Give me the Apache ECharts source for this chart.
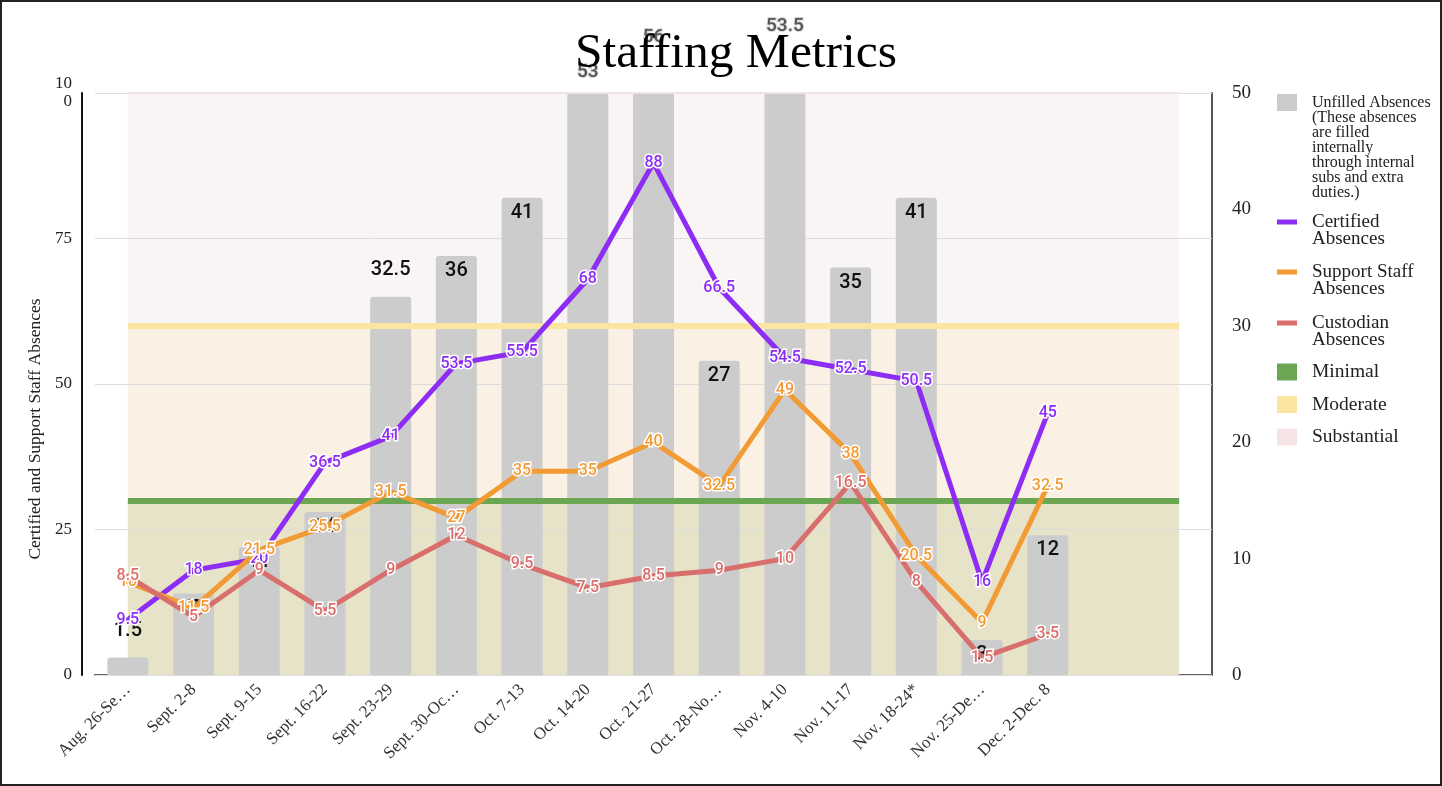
<!DOCTYPE html>
<html>
<head>
<meta charset="utf-8">
<title>Staffing Metrics</title>
<script src="https://cdn.jsdelivr.net/npm/echarts@6/dist/echarts.min.js"></script>
<style>
  html, body { margin: 0; padding: 0; background: #fff; }
  #chart { width: 1442px; height: 786px; }
  #frame { position: absolute; left: 0; top: 0; width: 1442px; height: 786px;
           box-sizing: border-box; border: 2px solid #222; pointer-events: none; }
</style>
</head>
<body>
<div id="chart"></div>
<div id="frame"></div>
<script>
// week labels as shown on the axis (two blank slots at the end)
var weeks = ['Aug. 26-Se…', 'Sept. 2-8', 'Sept. 9-15', 'Sept. 16-22', 'Sept. 23-29',
    'Sept. 30-Oc…', 'Oct. 7-13', 'Oct. 14-20', 'Oct. 21-27', 'Oct. 28-No…',
    'Nov. 4-10', 'Nov. 11-17', 'Nov. 18-24*', 'Nov. 25-De…', 'Dec. 2-Dec. 8', '', ''];

var unfilled  = [1.5, 7, 11, 14, 32.5, 36, 41, 53, 56, 27, 53.5, 35, 41, 3, 12];
var certified = [9.5, 18, 20, 36.5, 41, 53.5, 55.5, 68, 88, 66.5, 54.5, 52.5, 50.5, 16, 45];
var support   = [16, 11.5, 21.5, 25.5, 31.5, 27, 35, 35, 40, 32.5, 49, 38, 20.5, 9, 32.5];
var custodian = [8.5, 5, 9, 5.5, 9, 12, 9.5, 7.5, 8.5, 9, 10, 16.5, 8, 1.5, 3.5];

// band thresholds on the left axis
var bandNames  = ['Minimal', 'Moderate', 'Substantial'];
var bandLevels = [0, 30, 60, 100];

var leftTicks  = [0, 25, 50, 75, 100];
var rightTicks = [0, 10, 20, 30, 40, 50];

var UNFILLED = 'Unfilled Absences (These absences are filled internally through internal subs and extra duties.)';
var serif = '"Liberation Serif", "DejaVu Serif", serif';
var sans = 'Roboto, "Liberation Sans", sans-serif';

var rightMax = rightTicks[rightTicks.length - 1];
var lastIdx = weeks.length - 1;

var bandFill = ['#e6e3c9', '#faf1e4', '#f9f5f4'];
var bandLine = ['#6ba653', '#fbe5a1', '#efe3e3'];
var bandSwatch = ['#6ba653', '#fbe5a1', '#f4e4e6'];

function barLabel(v) {
    var dec = !Number.isInteger(v);
    return {
        show: v <= rightMax,
        position: dec ? 'top' : 'insideTop',
        distance: dec ? 17 : 5
    };
}

var barData = unfilled.map(function (v) {
    return {value: v, label: barLabel(v)};
});
var overflowData = unfilled.map(function (v) {
    if (v <= rightMax) return '-';
    var dec = !Number.isInteger(v);
    return {value: v, label: {position: dec ? 'top' : 'bottom', distance: dec ? 17 : 5}};
});

function lineSeries(name, data, color, axis) {
    return {
        name: name,
        type: 'line',
        yAxisIndex: axis,
        data: data,
        z: 4,
        symbol: 'circle',
        symbolSize: 0,
        showSymbol: true,
        color: color,
        lineStyle: {width: 5, color: color, cap: 'round', join: 'round'},
        label: {
            show: true,
            position: 'inside',
            color: color,
            fontFamily: sans,
            fontSize: 16,
            fontWeight: 500,
            textBorderColor: '#fff',
            textBorderWidth: 3
        }
    };
}

var bandSeries = bandNames.map(function (name, i) {
    return {
        name: name,
        type: 'line',
        yAxisIndex: 0,
        data: [],
        color: bandSwatch[i],
        itemStyle: {color: bandSwatch[i]},
        markArea: {
            silent: true,
            z: 1,
            itemStyle: {color: bandFill[i]},
            data: [[{xAxis: 0, yAxis: bandLevels[i]}, {xAxis: lastIdx, yAxis: bandLevels[i + 1]}]]
        },
        markLine: {
            silent: true,
            z: 3,
            symbol: 'none',
            label: {show: false},
            lineStyle: {color: bandLine[i], width: i < 2 ? 6 : 2, type: 'solid'},
            data: [[{xAxis: 0, yAxis: bandLevels[i + 1]}, {xAxis: lastIdx, yAxis: bandLevels[i + 1]}]]
        }
    };
});

var unfilledLines = ['Unfilled Absences', '(These absences', 'are filled', 'internally',
    'through internal', 'subs and extra', 'duties.)'];

// one legend per entry so each can sit where the reference puts it;
// blank lines on top keep the first text line level with the icon
function legendItem(name, center, lines, opts) {
    var lh = opts.lineHeight, n = lines.length;
    var pad = new Array(n).join('\n');
    return {
        data: [{name: name, icon: 'rect'}],
        orient: 'vertical',
        left: 1277,
        top: center - (2 * n - 1) * lh / 2,
        padding: 0,
        itemWidth: 20,
        itemHeight: opts.iconH,
        selectedMode: false,
        formatter: function () { return pad + lines.join('\n'); },
        textStyle: {
            fontFamily: serif,
            fontSize: opts.fontSize,
            lineHeight: lh,
            color: '#222',
            padding: [0, 0, 0, 10]
        }
    };
}

var bigText = {iconH: 5, lineHeight: 17, fontSize: 19};
var boxText = {iconH: 17, lineHeight: 20, fontSize: 19.5};

var legends = [
    legendItem(UNFILLED, 102, unfilledLines, {iconH: 17, lineHeight: 15, fontSize: 16}),
    legendItem('Certified Absences', 221, ['Certified', 'Absences'], bigText),
    legendItem('Support Staff Absences', 271, ['Support Staff', 'Absences'], bigText),
    legendItem('Custodian Absences', 322, ['Custodian', 'Absences'], bigText),
    legendItem('Minimal', 372, ['Minimal'], boxText),
    legendItem('Moderate', 404.5, ['Moderate'], boxText),
    legendItem('Substantial', 437, ['Substantial'], boxText)
];

var option = {
    animation: false,
    title: {
        text: 'Staffing Metrics',
        left: 731,
        textAlign: 'center',
        top: 24,
        textStyle: {fontFamily: serif, fontSize: 49.5, fontWeight: 'normal', color: '#000'}
    },
    legend: legends,
    grid: {left: 95, right: 230, top: 93, bottom: 111, containLabel: false},
    xAxis: {
        type: 'category',
        data: weeks,
        boundaryGap: true,
        axisTick: {show: false},
        axisLine: {lineStyle: {color: '#666', width: 2}},
        axisLabel: {
            interval: 0,
            rotate: 45,
            margin: 12,
            fontFamily: serif,
            fontSize: 17,
            color: '#333'
        }
    },
    yAxis: [{
        type: 'value',
        min: leftTicks[0],
        max: leftTicks[leftTicks.length - 1],
        interval: leftTicks[1] - leftTicks[0],
        offset: 13,
        z: 1.5,
        name: 'Certified and Support Staff Absences',
        nameLocation: 'middle',
        nameGap: 35,
        nameTextStyle: {fontFamily: serif, fontSize: 17.5, color: '#222', padding: [0, 90, 0, 0]},
        axisLine: {show: true, lineStyle: {color: '#111', width: 2}},
        axisTick: {show: false},
        splitLine: {lineStyle: {color: '#dcdcdc', width: 1}},
        axisLabel: {
            fontFamily: serif,
            fontSize: 17,
            lineHeight: 18,
            color: '#222',
            margin: 10,
            formatter: function (v) { return v === 100 ? '10\n0' : String(v); }
        }
    }, {
        type: 'value',
        position: 'right',
        min: rightTicks[0],
        max: rightMax,
        interval: rightTicks[1] - rightTicks[0],
        axisLine: {show: true, lineStyle: {color: '#555', width: 2}},
        axisTick: {show: false},
        splitLine: {show: false},
        axisLabel: {fontFamily: serif, fontSize: 19, color: '#222', margin: 20}
    }],
    series: bandSeries.concat([{
        name: UNFILLED,
        type: 'bar',
        yAxisIndex: 1,
        z: 2,
        barWidth: 41,
        color: '#cccccc',
        itemStyle: {color: '#cccccc', borderRadius: [3, 3, 0, 0]},
        label: {color: '#111', fontFamily: sans, fontSize: 20, fontWeight: 500},
        data: barData
    }, {
        // labels of bars that run past the top of the right axis
        type: 'scatter',
        yAxisIndex: 1,
        symbolSize: 0,
        clip: false,
        silent: true,
        z: 5,
        label: {show: true, color: '#333', fontFamily: sans, fontSize: 19, fontWeight: 500,
            textBorderColor: '#d0d0d0', textBorderWidth: 2},
        data: overflowData
    },
    lineSeries('Certified Absences', certified, '#8c2cf4', 0),
    lineSeries('Support Staff Absences', support, '#f29b35', 0),
    lineSeries('Custodian Absences', custodian, '#d96f6c', 1)
    ])
};

var chart = echarts.init(document.getElementById('chart'));
chart.setOption(option);
</script>
</body>
</html>
